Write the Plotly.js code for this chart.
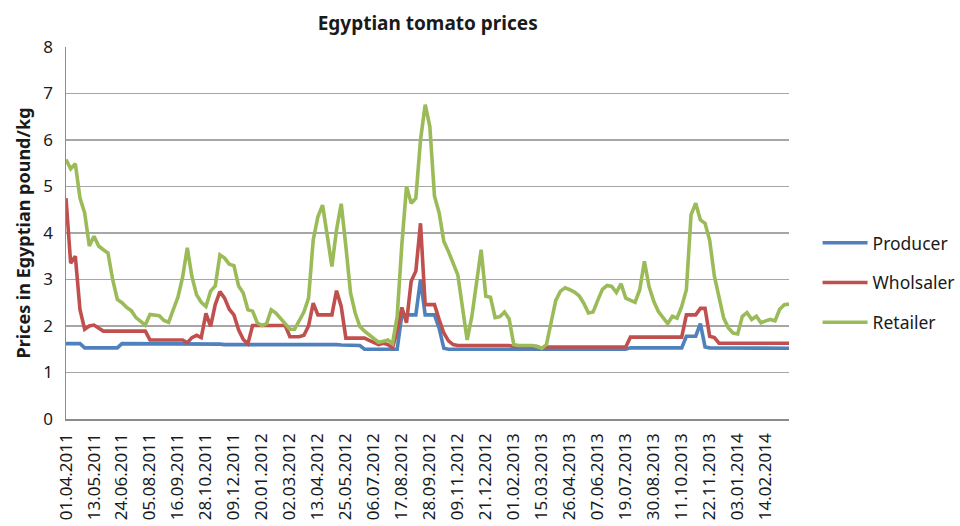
<!DOCTYPE html>
<html>
<head>
<meta charset="utf-8">
<script src="https://cdn.plot.ly/plotly-3.0.1.min.js"></script>
<style>
  html, body { margin: 0; padding: 0; background: #ffffff; }
  #chart { width: 960px; height: 526px; }
</style>
</head>
<body>
<div id="chart"></div>
<script>
// Weekly observations, 01.04.2011 onward (one value per week)
const tickLabels = [
  "01.04.2011","13.05.2011","24.06.2011","05.08.2011","16.09.2011","28.10.2011",
  "09.12.2011","20.01.2012","02.03.2012","13.04.2012","25.05.2012","06.07.2012",
  "17.08.2012","28.09.2012","09.11.2012","21.12.2012","01.02.2013","15.03.2013",
  "26.04.2013","07.06.2013","19.07.2013","30.08.2013","11.10.2013","22.11.2013",
  "03.01.2014","14.02.2014"
];
const weeksPerTick = 6;

const producer = [
  1.62,1.62,1.62,1.62,1.53,1.53,1.53,1.53,1.53,1.53,
  1.53,1.53,1.62,1.62,1.62,1.62,1.62,1.62,1.62,1.62,
  1.62,1.62,1.62,1.62,1.62,1.62,1.62,1.62,1.62,1.62,
  1.62,1.62,1.61,1.61,1.60,1.60,1.60,1.61,1.61,1.61,
  1.61,1.61,1.61,1.61,1.61,1.61,1.60,1.60,1.60,1.60,
  1.60,1.60,1.60,1.60,1.60,1.60,1.60,1.60,1.60,1.59,
  1.59,1.58,1.58,1.58,1.50,1.50,1.50,1.50,1.50,1.50,
  1.50,1.50,2.24,2.24,2.24,2.24,3.00,2.24,2.24,2.24,
  1.95,1.52,1.50,1.50,1.50,1.50,1.50,1.50,1.50,1.50,
  1.50,1.50,1.50,1.50,1.50,1.50,1.50,1.50,1.50,1.50,
  1.50,1.50,1.50,1.50,1.50,1.50,1.50,1.50,1.50,1.50,
  1.50,1.50,1.50,1.50,1.50,1.50,1.50,1.50,1.50,1.50,
  1.50,1.53,1.53,1.53,1.53,1.53,1.53,1.53,1.53,1.53,
  1.53,1.53,1.53,1.78,1.78,1.78,2.05,1.55,1.53,1.53,
  1.53,1.53,1.53,1.53,1.53,1.53,1.53,1.53,1.53,1.53,
  1.52,1.52,1.52,1.52,1.52,1.52
];

const wholesaler = [
  4.75,3.35,3.50,2.35,1.93,2.00,2.02,1.96,1.89,1.89,
  1.89,1.89,1.89,1.89,1.89,1.89,1.89,1.89,1.70,1.70,
  1.70,1.70,1.70,1.70,1.70,1.70,1.64,1.75,1.80,1.75,
  2.27,1.99,2.46,2.74,2.60,2.36,2.24,1.92,1.71,1.62,
  2.01,2.01,2.01,2.01,2.01,2.01,2.01,2.01,1.77,1.77,
  1.77,1.80,2.00,2.49,2.24,2.24,2.24,2.24,2.76,2.42,
  1.74,1.74,1.74,1.74,1.74,1.69,1.65,1.60,1.63,1.60,
  1.53,1.90,2.40,2.07,2.96,3.18,4.21,2.46,2.46,2.46,
  2.14,1.85,1.68,1.60,1.58,1.58,1.58,1.58,1.58,1.58,
  1.58,1.58,1.58,1.58,1.58,1.58,1.56,1.56,1.56,1.56,
  1.56,1.56,1.52,1.55,1.55,1.55,1.55,1.55,1.55,1.55,
  1.55,1.55,1.55,1.55,1.55,1.55,1.55,1.55,1.55,1.55,
  1.55,1.76,1.76,1.76,1.76,1.76,1.76,1.76,1.76,1.76,
  1.76,1.76,1.76,2.24,2.24,2.24,2.38,2.38,1.78,1.75,
  1.63,1.63,1.63,1.63,1.63,1.63,1.63,1.63,1.63,1.63,
  1.63,1.63,1.63,1.63,1.63,1.63
];

const retailer = [
  5.58,5.38,5.49,4.75,4.43,3.72,3.93,3.72,3.64,3.57,
  3.00,2.57,2.50,2.40,2.33,2.18,2.10,2.02,2.25,2.24,
  2.22,2.12,2.08,2.35,2.62,3.05,3.68,3.06,2.67,2.51,
  2.42,2.75,2.86,3.53,3.46,3.33,3.30,2.86,2.71,2.35,
  2.32,2.07,2.01,2.05,2.35,2.28,2.17,2.05,1.93,1.93,
  2.13,2.30,2.60,3.85,4.35,4.60,3.95,3.28,4.07,4.63,
  3.71,2.71,2.28,1.99,1.89,1.81,1.74,1.65,1.67,1.70,
  1.62,2.21,3.75,5.00,4.64,4.75,6.00,6.76,6.29,4.79,
  4.43,3.82,3.60,3.35,3.10,2.40,1.70,2.20,2.95,3.64,
  2.64,2.62,2.18,2.20,2.30,2.15,1.60,1.58,1.58,1.58,
  1.58,1.56,1.52,1.60,2.05,2.55,2.75,2.82,2.78,2.73,
  2.65,2.49,2.28,2.30,2.55,2.79,2.87,2.85,2.72,2.91,
  2.60,2.55,2.51,2.78,3.39,2.85,2.53,2.31,2.17,2.05,
  2.21,2.17,2.42,2.78,4.39,4.64,4.28,4.21,3.84,3.07,
  2.62,2.17,1.96,1.85,1.83,2.21,2.29,2.14,2.21,2.07,
  2.11,2.14,2.11,2.36,2.46,2.47
];

const seriesNames = ["Producer", "Wholsaler", "Retailer"];
const seriesColors = ["#4F81BD", "#C0504D", "#9BBB59"];
const seriesValues = [producer, wholesaler, retailer];

const weekIndex = retailer.map((_, i) => i);
const tickVals = tickLabels.map((_, k) => k * weeksPerTick);

const FONT = "Noto Sans, Open Sans, DejaVu Sans, sans-serif";

const traces = seriesValues.map((vals, s) => ({
  type: "scatter",
  mode: "lines",
  name: seriesNames[s],
  legendgroup: "g" + s,
  x: weekIndex,
  y: vals,
  line: { color: seriesColors[s], width: 3.6 },
  hoverinfo: "x+y+name"
}));

const layout = {
  width: 960,
  height: 526,
  paper_bgcolor: "#ffffff",
  plot_bgcolor: "#ffffff",
  margin: { l: 66, r: 171, t: 47, b: 107, pad: 0, autoexpand: false },
  title: {
    text: "<b>Egyptian tomato prices</b>",
    font: { family: FONT, size: 19, color: "#1a1a1a" },
    x: 0.4455, xanchor: "center",
    y: 0.955, yanchor: "middle"
  },
  showlegend: true,
  legend: {
    x: 1.0395, xanchor: "left",
    y: 0.366, yanchor: "middle",
    font: { family: FONT, size: 17.5, color: "#1a1a1a" },
    tracegroupgap: 14,
    itemwidth: 45,
    bgcolor: "rgba(0,0,0,0)"
  },
  xaxis: {
    range: [0, weekIndex.length - 1],
    tickmode: "array",
    tickvals: tickVals,
    ticktext: tickLabels,
    tickangle: -90,
    tickfont: { family: FONT, size: 17, color: "#1a1a1a" },
    ticks: "",
    ticklabelstandoff: 6,
    showgrid: false,
    zeroline: false,
    showline: true,
    linecolor: "#8c8c8c",
    linewidth: 1.5,
    automargin: false,
    fixedrange: true
  },
  yaxis: {
    range: [0, 8],
    dtick: 1,
    tick0: 0,
    tickfont: { family: FONT, size: 17, color: "#1a1a1a" },
    ticks: "",
    ticklabelstandoff: 8,
    showgrid: true,
    gridcolor: "#a6a6a6",
    gridwidth: 1.3,
    zeroline: false,
    showline: true,
    linecolor: "#8c8c8c",
    linewidth: 1.5,
    automargin: false,
    title: {
      text: "<b>Prices in Egyptian pound/kg</b>",
      font: { family: FONT, size: 18, color: "#1a1a1a" },
      standoff: 8
    },
    fixedrange: true
  }
};

Plotly.newPlot("chart", traces, layout, { displayModeBar: false, staticPlot: true });
</script>
</body>
</html>
